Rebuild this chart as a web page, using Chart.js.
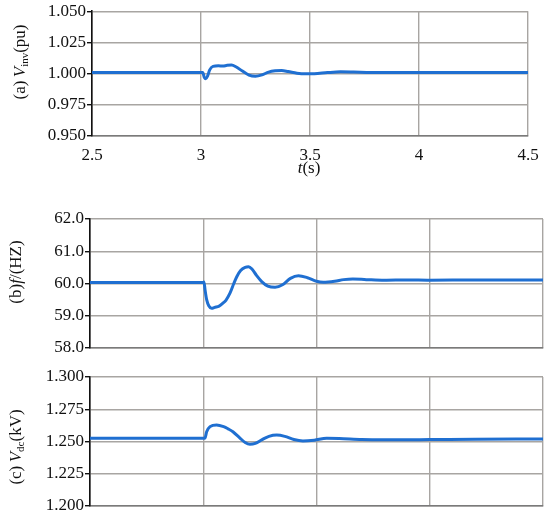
<!DOCTYPE html>
<html>
<head>
<meta charset="utf-8">
<script src="https://cdn.jsdelivr.net/npm/chart.js@4/dist/chart.umd.min.js"></script>
<style>
  body { margin: 0; background: #fff; }
  #page { position: relative; width: 550px; height: 522px; font-family: "Liberation Serif", "Times New Roman", serif; color: #111; }
  .box { position: absolute; left: 0; width: 550px; }
  .ylab { position: absolute; font-size: 17px; white-space: nowrap; transform: translate(-50%, -50%) rotate(-90deg); }
  .ylab sub { font-size: 11px; vertical-align: -3px; }
  .xlab { position: absolute; font-size: 17px; white-space: nowrap; transform: translate(-50%, -50%); }
</style>
</head>
<body>
<div id="page">
  <div class="box" style="top:0;height:180px"><canvas id="chartA"></canvas></div>
  <div class="box" style="top:200px;height:160px"><canvas id="chartB"></canvas></div>
  <div class="box" style="top:360px;height:160px"><canvas id="chartC"></canvas></div>
  <div class="ylab" style="left:20px;top:62px">(a)&#8201;<i>V</i><sub>inv</sub>(pu)</div>
  <div class="ylab" style="left:16px;top:272px">(b)<i>f</i>/(HZ)</div>
  <div class="ylab" style="left:16px;top:447px">(c)&#8201;<i>V</i><sub>dc</sub>(kV)</div>
  <div class="xlab" style="left:309px;top:168px"><i>t</i>(s)</div>
</div>
<script>
// time axis (s)
const xTicks = [2.5, 3, 3.5, 4, 4.5];

// (a) inverter voltage, pu
const tA = [2.5, 3.0, 3.008, 3.015, 3.022, 3.03, 3.04, 3.055, 3.08, 3.1, 3.12, 3.14, 3.16, 3.19, 3.22, 3.25, 3.28, 3.31, 3.34, 3.37, 3.4, 3.44, 3.48, 3.52, 3.58, 3.64, 3.7, 3.78, 3.9, 4.0, 4.2, 4.5];
const vInv = [1.0008, 1.0008, 1.0008, 0.997, 0.9958, 0.998, 1.003, 1.0058, 1.0062, 1.006, 1.0066, 1.0068, 1.0055, 1.002, 0.9988, 0.9979, 0.999, 1.0012, 1.0022, 1.0024, 1.0016, 1.0003, 0.9998, 0.9999, 1.0008, 1.0014, 1.0012, 1.0008, 1.0008, 1.0008, 1.0008, 1.0008];

// (b) frequency, Hz
const tB = [2.5, 3.0, 3.003, 3.008, 3.015, 3.025, 3.037, 3.05, 3.07, 3.087, 3.1, 3.118, 3.135, 3.148, 3.165, 3.185, 3.2, 3.215, 3.235, 3.258, 3.285, 3.317, 3.35, 3.385, 3.42, 3.46, 3.5, 3.53, 3.58, 3.62, 3.66, 3.72, 3.8, 3.9, 4.0, 4.2, 4.5];
const freq = [60.03, 60.03, 60.05, 59.8, 59.5, 59.3, 59.23, 59.26, 59.3, 59.39, 59.48, 59.7, 60.0, 60.21, 60.4, 60.5, 60.52, 60.45, 60.25, 60.06, 59.92, 59.88, 59.96, 60.16, 60.24, 60.18, 60.07, 60.04, 60.07, 60.12, 60.14, 60.12, 60.1, 60.11, 60.1, 60.11, 60.11];

// (c) dc voltage, kV
const tC = [2.5, 3.0, 3.008, 3.015, 3.03, 3.059, 3.09, 3.11, 3.131, 3.16, 3.185, 3.206, 3.23, 3.26, 3.29, 3.324, 3.36, 3.4, 3.44, 3.49, 3.545, 3.6, 3.7, 3.8, 4.0, 4.2, 4.5];
const vDc = [1.2525, 1.2525, 1.2528, 1.2575, 1.2615, 1.2628, 1.2615, 1.2598, 1.2576, 1.253, 1.2492, 1.2478, 1.2485, 1.2515, 1.254, 1.255, 1.254, 1.2515, 1.2504, 1.251, 1.2525, 1.2523, 1.2515, 1.2513, 1.2515, 1.2518, 1.2519];

const GRID = "#a8a5a2";
const LINE = "#1f6fd1";
const FONT = { family: "Liberation Serif", size: 17 };

function makeChart(id, xs, ys, o) {
  return new Chart(document.getElementById(id), {
    type: "line",
    data: {
      datasets: [{
        data: xs.map((x, i) => ({ x: x, y: ys[i] })),
        borderColor: LINE,
        borderWidth: 3,
        pointRadius: 0,
        cubicInterpolationMode: "monotone",
      }],
    },
    options: {
      responsive: true,
      maintainAspectRatio: false,
      animation: false,
      layout: { padding: { top: o.top, right: o.right, left: 0, bottom: 0 } },
      plugins: { legend: { display: false }, tooltip: { enabled: false } },
      scales: {
        x: {
          type: "linear",
          min: 2.5,
          max: 4.5,
          afterBuildTicks: (s) => { s.ticks = xTicks.map((v) => ({ value: v })); },
          afterFit: (s) => { s.height = o.xh; },
          grid: { color: GRID, lineWidth: 1.4, drawTicks: false },
          border: { color: "#7a7a7a", width: 1.4 },
          ticks: {
            display: o.xlabels,
            padding: 9,
            color: "#111",
            font: FONT,
            maxRotation: 0,
            callback: (v) => String(v),
          },
        },
        y: {
          min: o.min,
          max: o.max,
          afterBuildTicks: (s) => { s.ticks = o.yTicks.map((v) => ({ value: v })); },
          afterFit: (s) => { s.width = o.yw; },
          grid: { color: GRID, lineWidth: 1.4, tickColor: "#111", tickLength: 5 },
          border: { color: "#111", width: 1.6 },
          ticks: {
            padding: 1,
            color: "#111",
            font: FONT,
            callback: (v) => v.toFixed(o.dec),
          },
        },
      },
    },
  });
}

makeChart("chartA", tA, vInv, {
  top: 10, right: 22, xh: 44, yw: 92, xlabels: true,
  min: 0.95, max: 1.05, yTicks: [0.95, 0.975, 1.0, 1.025, 1.05], dec: 3,
});
makeChart("chartB", tB, freq, {
  top: 19, right: 7, xh: 12, yw: 90, xlabels: false,
  min: 58, max: 62, yTicks: [58, 59, 60, 61, 62], dec: 1,
});
makeChart("chartC", tC, vDc, {
  top: 17, right: 7, xh: 14, yw: 90, xlabels: false,
  min: 1.2, max: 1.3, yTicks: [1.2, 1.225, 1.25, 1.275, 1.3], dec: 3,
});
</script>
</body>
</html>
